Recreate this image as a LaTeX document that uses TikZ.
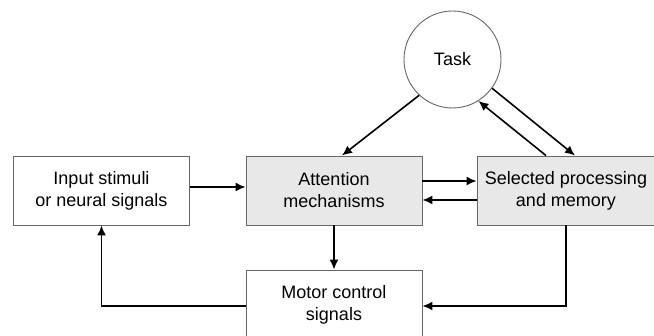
\documentclass[tikz,border=0pt]{standalone}
\usepackage{fontspec}
\setmainfont{Liberation Sans}
\usetikzlibrary{arrows.meta}

\begin{document}
\begin{tikzpicture}[x=1pt,y=-1pt,
  box/.style={draw=black!60,line width=0.9pt,minimum width=176pt,minimum height=69pt,
    inner sep=0pt,align=center,font=\fontsize{18}{22}\selectfont},
  greybox/.style={box,fill=black!9},
  arr/.style={line width=1.6pt,-{Latex[length=10pt,width=9pt]}}]
\useasboundingbox (0,0) rectangle (654,336);
\node[box] (input) at (101.5,190.5) {Input stimuli\\or neural signals};
\node[greybox] (attn) at (334,190.5) {Attention\\mechanisms};
\node[greybox,minimum width=178pt] (sel) at (566,190.5) {Selected processing\\and memory};
\node[box] (motor) at (334,304.5) {Motor control\\signals};
\node[box,circle,minimum width=97pt,minimum height=97pt] (task) at (452.5,59.5) {Task};
\draw[arr] ([yshift=3.5pt]input.east) -- ([yshift=3.5pt]attn.west);
\draw[arr] ([yshift=9.5pt]attn.east) -- ([yshift=9.5pt]sel.west);
\draw[arr] ([yshift=-9.5pt]sel.west) -- ([yshift=-9.5pt]attn.east);
\draw[arr] (task.227) -- ([xshift=8pt]attn.north);
\draw[arr] (task.324) -- ([xshift=9pt]sel.north);
\draw[arr] ([xshift=-20pt]sel.north) -- (task.302);
\draw[arr] (attn.south) -- (motor.north);
\draw[arr] (sel.south) |- ([yshift=-1.5pt]motor.east);
\draw[arr] ([yshift=-1.5pt]motor.west) -| (input.south);
\end{tikzpicture}
\end{document}
